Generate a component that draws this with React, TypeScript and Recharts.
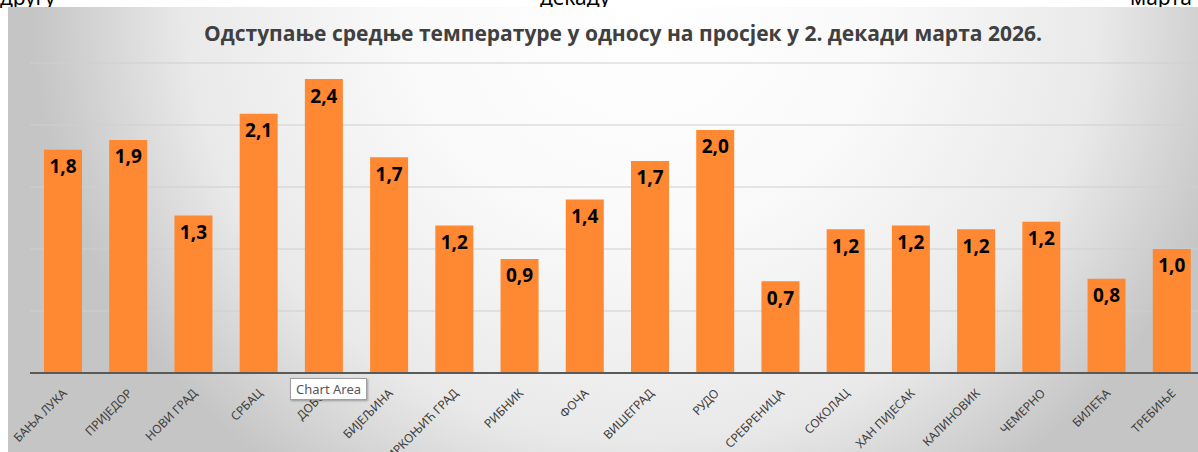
import React from "react";
import { BarChart, Bar, XAxis, YAxis, CartesianGrid, LabelList } from "recharts";

const title = "Одступање средње температуре у односу на просјек у 2. декади марта 2026.";
const stations = [
  "БАЊА ЛУКА", "ПРИЈЕДОР", "НОВИ ГРАД", "СРБАЦ", "ДОБОЈ", "БИЈЕЉИНА",
  "МРКОЊИЋ ГРАД", "РИБНИК", "ФОЧА", "ВИШЕГРАД", "РУДО", "СРЕБРЕНИЦА",
  "СОКОЛАЦ", "ХАН ПИЈЕСАК", "КАЛИНОВИК", "ЧЕМЕРНО", "БИЛЕЋА", "ТРЕБИЊЕ",
];
const deviation = [
  1.8, 1.88, 1.27, 2.09, 2.37, 1.74,
  1.19, 0.92, 1.4, 1.71, 1.96, 0.74,
  1.16, 1.19, 1.16, 1.22, 0.76, 1.0,
];
const yTicks = [0, 0.5, 1, 1.5, 2, 2.5];

const data = stations.map((s, i) => ({ name: s, value: deviation[i] }));

const fmt = (v: any) => Number(v).toFixed(1).replace(".", ",");

const Tick = (props: any) => {
  const { x, y, payload } = props;
  const ax = x + 5;
  const ay = y + 19;
  return (
    <text
      x={ax}
      y={ay}
      transform={`rotate(-45, ${ax}, ${ay})`}
      textAnchor="end"
      fontSize={12}
      fill="#404040"
      fontFamily="'Noto Sans', sans-serif"
    >
      {payload.value}
    </text>
  );
};

export default function App() {
  return (
    <div style={{ position: "relative", width: 1198, height: 452, overflow: "hidden", background: "#fff" }}>
      <style>{"body{margin:0}"}</style>
      <div style={{ position: "absolute", left: 0, top: -17, fontSize: 21, fontFamily: "'Noto Sans', sans-serif", color: "#000" }}>другу</div>
      <div style={{ position: "absolute", left: 540, top: -17, fontSize: 21, fontFamily: "'Noto Sans', sans-serif", color: "#000" }}>декаду</div>
      <div style={{ position: "absolute", left: 1130, top: -17, fontSize: 21, fontFamily: "'Noto Sans', sans-serif", color: "#000" }}>марта</div>
      <div
        style={{
          position: "absolute",
          left: 8,
          top: 7,
          width: 1220,
          height: 445,
          background: "radial-gradient(ellipse 50% 130% at 52% 0%, #ffffff 0%, #f9f9f9 40%, #e9e9e9 75%, #c5c5c5 100%)",
        }}
      >
        <div
          style={{
            position: "absolute",
            left: 0,
            width: 1230,
            top: 12,
            textAlign: "center",
            fontSize: 21,
            fontWeight: 700,
            color: "#404040",
            fontFamily: "'Open Sans', sans-serif",
          }}
        >
          {title}
        </div>
        <BarChart
          width={1220}
          height={445}
          data={data}
          margin={{ top: 56, left: 22, right: 24, bottom: 0 }}
        >
          <CartesianGrid vertical={false} stroke="#cfcfcf" strokeWidth={1} />
          <YAxis hide domain={[0, 2.5]} ticks={yTicks} />
          <XAxis
            dataKey="name"
            interval={0}
            height={79}
            tickLine={false}
            tickSize={0}
            axisLine={{ stroke: "#5a5a5a", strokeWidth: 2 }}
            tick={<Tick />}
          />
          <Bar dataKey="value" fill="#FF8833" barSize={38} isAnimationActive={false}>
            <LabelList
              dataKey="value"
              position="insideTop"
              offset={10}
              formatter={fmt}
              fill="#000"
              fontSize={19}
              fontWeight={700}
              fontFamily="'Open Sans', sans-serif"
            />
          </Bar>
        </BarChart>
      </div>
      <div
        style={{
          position: "absolute",
          left: 290,
          top: 378,
          padding: "1px 5px",
          background: "#fff",
          border: "1px solid #a0a0a0",
          boxShadow: "1px 1px 2px rgba(0,0,0,0.3)",
          fontSize: 13,
          color: "#575757",
          fontFamily: "'Noto Sans', sans-serif",
          lineHeight: "18px",
        }}
      >
        Chart Area
      </div>
    </div>
  );
}
